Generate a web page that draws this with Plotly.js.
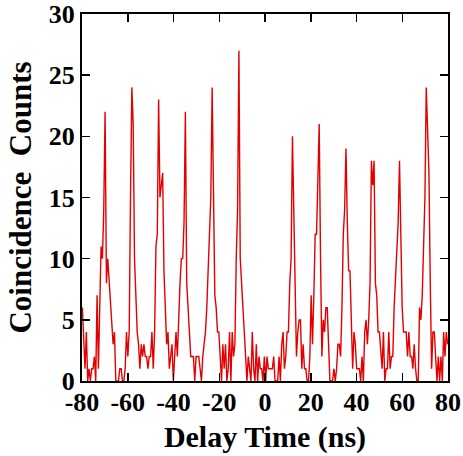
<!DOCTYPE html>
<html>
<head>
<meta charset="utf-8">
<script src="https://cdn.plot.ly/plotly-3.0.1.min.js"></script>
<style>
  html, body { margin: 0; padding: 0; background: #ffffff; }
  #chart { width: 463px; height: 456px; }
</style>
</head>
<body>
<div id="chart"></div>
<script>
// Histogram bins (ns)
const startDelay = -79.85;
const binWidth = 0.585;

// Coincidence counts per bin, grouped by pulse period
const countsLead  = [6,3,1,4,0,1,0];
const countsP1    = [1,1,2,0,7,1,6,11,10,14,22,8,10,8,6,5,3,4,0,0];
const countsP2    = [0,1,1,0,0,1,4,2,4,15,24,21,10,7,4,3,1,3,2,3];
const countsP3    = [2,2,1,2,2,4,1,4,11,12,23,15,16,17,9,5,3,4,1,2];
const countsP4    = [3,0,2,4,2,6,8,10,10,13,22,8,6,4,2,2,2,0,2,2];
const countsP5    = [2,1,0,2,3,4,6,9,12,15,24,16,7,6,4,4,2,0,3,1];
const countsP6    = [3,0,1,4,0,4,2,3,10,14,27,10,8,6,4,2,0,2,1,0];
const countsZero  = [4,1,0,3,0,2,1,1,0,2,0,2,1,1,1,1,2,0,0,0];
const countsP7    = [2,0,3,4,1,2,4,4,8,10,20,14,8,2,4,5,5,1,3,1];
const countsP8    = [1,0,0,2,7,3,7,12,12,17,21,10,2,5,4,6,6,3,0,0];
const countsP9    = [0,1,0,1,3,3,2,6,12,14,19,13,9,9,4,1,4,3,1,1];
const countsP10   = [1,0,2,0,4,5,3,5,8,18,16,18,8,7,4,4,2,1,4,0];
const countsP11   = [1,1,4,1,2,2,6,8,10,13,18,10,6,4,4,4,2,4,2,2];
const countsP12   = [1,3,1,0,0,6,5,7,11,15,24,20,17,8,1,4,4,2,0,2];
const countsTail  = [0,2,0,4,2,4,3];

const xTickVals = [-80,-60,-40,-20,0,20,40,60,80];
const xTickText = ['-80','-60','-40','-20','0','20','40','60','80'];
const yTickVals = [0,5,10,15,20,25,30];
const yTickText = ['0','5','10','15','20','25','30'];

const counts = [].concat(countsLead, countsP1, countsP2, countsP3, countsP4, countsP5,
  countsP6, countsZero, countsP7, countsP8, countsP9, countsP10, countsP11, countsP12, countsTail);
const delay = counts.map((_, i) => startDelay + i * binWidth);

const fontFam = '"Liberation Serif", "Times New Roman", serif';

const trace = {
  x: delay,
  y: counts,
  type: 'scatter',
  mode: 'lines',
  line: { color: '#e30000', width: 1.4 },
  hoverinfo: 'skip'
};

const axisCommon = {
  showgrid: false,
  zeroline: false,
  showline: true,
  linecolor: '#000000',
  linewidth: 2,
  mirror: 'ticks',
  ticks: 'inside',
  ticklen: 8,
  tickwidth: 1.5,
  tickcolor: '#000000',
  tickfont: { family: fontFam, size: 26, color: '#000000', weight: 'bold' }
};

const layout = {
  width: 463,
  height: 456,
  margin: { l: 82, r: 15, t: 14, b: 75 },
  paper_bgcolor: '#ffffff',
  plot_bgcolor: '#ffffff',
  showlegend: false,
  font: { family: fontFam, color: '#000000' },
  xaxis: Object.assign({}, axisCommon, {
    range: [-80, 80],
    tickvals: xTickVals,
    ticktext: xTickText,
    ticklabelstandoff: -3,
    title: { text: 'Delay Time (ns)', font: { family: fontFam, size: 30, color: '#000000', weight: 'bold' }, standoff: 10 }
  }),
  yaxis: Object.assign({}, axisCommon, {
    range: [0, 30],
    tickvals: yTickVals,
    ticktext: yTickText,
    title: { text: 'Coincidence\u00A0 Counts', font: { family: fontFam, size: 31, color: '#000000', weight: 'bold' }, standoff: 8 }
  })
};

Plotly.newPlot('chart', [trace], layout, { staticPlot: true, displayModeBar: false });
</script>
</body>
</html>
